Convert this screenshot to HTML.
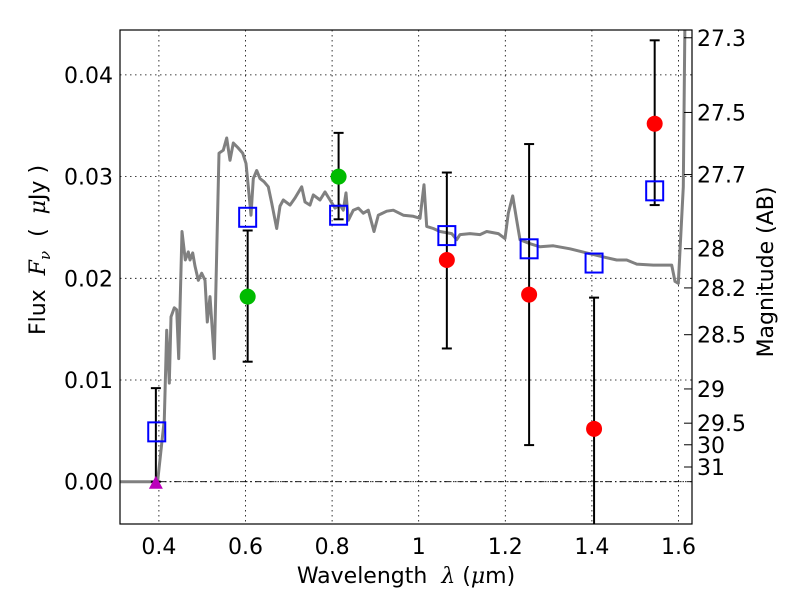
<!DOCTYPE html>
<html><head><meta charset="utf-8"><style>
body{margin:0;background:#fff}
svg text{font-family:"DejaVu Sans","Liberation Sans",sans-serif;fill:#000;white-space:pre}
</style></head><body>
<svg id="chart" width="800" height="600" xmlns="http://www.w3.org/2000/svg">
<rect width="800" height="600" fill="#fff"/>
<defs><clipPath id="clip"><rect x="120" y="30" width="572" height="494"/></clipPath></defs>
<g id="grid"></g>
<g id="plot" clip-path="url(#clip)"></g>
<rect x="120" y="30" width="572" height="494" fill="none" stroke="#000" stroke-width="1.2"/>
<g id="axes"></g>
<text x="406" y="583" text-anchor="middle" font-size="22" xml:space="preserve">Wavelength  <tspan font-family="DejaVu Serif" font-style="italic">λ</tspan> (<tspan font-family="DejaVu Serif" font-style="italic">μ</tspan>m)</text>
<text transform="translate(45,250) rotate(-90)" text-anchor="middle" font-size="22" xml:space="preserve">Flux  <tspan font-family="DejaVu Serif" font-style="italic">F</tspan><tspan font-family="DejaVu Serif" font-style="italic" font-size="15" dy="5">ν</tspan><tspan dy="-5">  (  </tspan><tspan font-family="DejaVu Serif" font-style="italic">μ</tspan>Jy )</text>
<text transform="translate(773,272) rotate(-90)" text-anchor="middle" font-size="22">Magnitude (AB)</text>
</svg>
<script>
const xTicks=[0.4,0.6,0.8,1.0,1.2,1.4,1.6];
const xTickLabels=["0.4","0.6","0.8","1","1.2","1.4","1.6"];
const yTicks=[0,0.01,0.02,0.03,0.04];
const yTickLabels=["0.00","0.01","0.02","0.03","0.04"];
const magTicks=[27.3,27.5,27.7,28,28.2,28.5,29,29.5,30,31];
const specWave=[0.31,0.39,0.397,0.4125,0.418,0.424,0.428,0.4356,0.441,0.4457,0.4533,0.461,0.468,0.4718,0.478,0.4834,0.491,0.4988,0.5065,0.5118,0.518,0.528,0.5335,0.5388,0.5487,0.5566,0.5642,0.5718,0.5834,0.5935,0.6012,0.6065,0.6127,0.618,0.6259,0.6335,0.6427,0.6527,0.6605,0.672,0.6797,0.6873,0.7028,0.7143,0.7298,0.7374,0.749,0.7566,0.772,0.7836,0.7951,0.8067,0.8182,0.8259,0.8321,0.8374,0.849,0.8605,0.872,0.8836,0.8968,0.9067,0.9261,0.9413,0.9644,0.9875,1.003,1.0122,1.0185,1.0337,1.0492,1.0762,1.0878,1.0954,1.1185,1.1416,1.157,1.1838,1.1993,1.2069,1.2171,1.2263,1.234,1.2571,1.2802,1.3108,1.3494,1.388,1.4263,1.4573,1.4804,1.5034,1.5418,1.5727,1.5843,1.592,1.5996,1.611,1.615];
const specFlux=[0,0,0,0.0061,0.0149,0.0097,0.0162,0.0171,0.0169,0.0121,0.0246,0.0218,0.0226,0.0218,0.0225,0.0212,0.0198,0.0205,0.0198,0.0157,0.0182,0.0121,0.0225,0.0323,0.0326,0.0338,0.0316,0.0333,0.0328,0.0323,0.0313,0.0290,0.0262,0.0298,0.0306,0.0298,0.0295,0.0290,0.0274,0.0249,0.0271,0.0277,0.0272,0.0279,0.0290,0.0275,0.0272,0.0282,0.0277,0.0285,0.0277,0.0269,0.0272,0.0267,0.0284,0.0257,0.0267,0.0269,0.0264,0.0267,0.0246,0.0262,0.0266,0.0267,0.0262,0.0261,0.0259,0.0292,0.0251,0.0249,0.0246,0.0244,0.0238,0.0243,0.0244,0.0243,0.0246,0.0244,0.0239,0.0264,0.0281,0.0257,0.0238,0.0234,0.0231,0.0232,0.0229,0.0225,0.0221,0.0218,0.0218,0.0214,0.0213,0.0213,0.0213,0.0197,0.0195,0.0290,0.0460];
const modelWave=[0.395,0.605,0.815,1.065,1.255,1.405,1.545];
const modelFlux=[0.0049,0.0260,0.0262,0.0242,0.0229,0.0215,0.0286];
const greenWave=[0.605,0.815];
const greenFlux=[0.0182,0.0300];
const greenLo=[0.0118,0.0258];
const greenHi=[0.0247,0.0343];
const redWave=[1.065,1.255,1.405,1.545];
const redFlux=[0.0218,0.0184,0.0052,0.0352];
const redLo=[0.0131,0.0036,-0.006,0.0272];
const redHi=[0.0304,0.0332,0.0181,0.0434];
const limWave=[0.393];
const limFlux=[0.0];
const limHi=[0.0092];

const X=v=>158.9+(v-0.4)*433;
const Y=v=>481.7-v*10170;
const NS="http://www.w3.org/2000/svg";
function mk(parent,tag,attrs){const e=document.createElementNS(NS,tag);for(const k in attrs)e.setAttribute(k,attrs[k]);parent.appendChild(e);return e;}
const grid=document.getElementById('grid'),plot=document.getElementById('plot'),axes=document.getElementById('axes');
xTicks.forEach((t,i)=>{
  const l=mk(grid,'line',{x1:X(t),x2:X(t),y1:30,y2:524,stroke:'#000','stroke-width':0.8,'stroke-dasharray':'1.5,3.5'});
  
  
  const tx=mk(axes,'text',{x:X(t),y:554,'text-anchor':'middle','font-size':22});
  tx.textContent=xTickLabels[i];
  
  
});
yTicks.forEach((t,i)=>{
  const l=mk(grid,'line',{x1:120,x2:692,y1:Y(t),y2:Y(t),stroke:'#000','stroke-width':0.8,'stroke-dasharray':'1.5,3.5'});
  
  
  const tx=mk(axes,'text',{x:113,y:Y(t)+8,'text-anchor':'end','font-size':22});
  tx.textContent=yTickLabels[i];
  
  
});
const zl=mk(grid,'line',{x1:120,x2:692,y1:Y(0),y2:Y(0),stroke:'#000','stroke-width':0.8,'stroke-dasharray':'6,3,1.5,3'});


magTicks.forEach(m=>{
  const f=Math.pow(10,(23.9-m)/2.5);
  const y=Y(f);
  const tk=mk(axes,'line',{x1:684,x2:692,y1:y,y2:y,stroke:'#000','stroke-width':1});
  
  
  const tx=mk(axes,'text',{x:697,y:y+8,'font-size':22});
  tx.textContent=String(m);
  
  
});
const pts=specWave.map((w,i)=>X(w).toFixed(1)+','+Y(specFlux[i]).toFixed(1)).join(' ');
const sp=mk(plot,'polyline',{points:pts,fill:'none',stroke:'#808080','stroke-width':3,'stroke-linejoin':'round'});


function err(w,lo,hi,name){
  const g=mk(plot,'g',{});
  
  
  mk(g,'line',{x1:X(w),x2:X(w),y1:Y(lo),y2:Y(hi),stroke:'#000','stroke-width':2});
  mk(g,'line',{x1:X(w)-5,x2:X(w)+5,y1:Y(lo),y2:Y(lo),stroke:'#000','stroke-width':2});
  mk(g,'line',{x1:X(w)-5,x2:X(w)+5,y1:Y(hi),y2:Y(hi),stroke:'#000','stroke-width':2});
}
limWave.forEach((w,i)=>err(w,limFlux[i],limHi[i],'limit-errorbar'));
greenWave.forEach((w,i)=>err(w,greenLo[i],greenHi[i],'green-errorbar'));
redWave.forEach((w,i)=>err(w,redLo[i],redHi[i],'red-errorbar'));
modelWave.forEach((w,i)=>{
  const r=mk(plot,'rect',{x:X(w)-8.5,y:Y(modelFlux[i])-9.5,width:17,height:19,fill:'none',stroke:'#0000ff','stroke-width':2});
  
  
});
greenWave.forEach((w,i)=>{
  const c=mk(plot,'circle',{cx:X(w),cy:Y(greenFlux[i]),r:8,fill:'#00bb00'});
  
  
});
redWave.forEach((w,i)=>{
  const c=mk(plot,'circle',{cx:X(w),cy:Y(redFlux[i]),r:8,fill:'#ff0000'});
  
  
});
limWave.forEach((w,i)=>{
  const x=X(w),y=Y(limFlux[i]);
  const p=mk(plot,'polygon',{points:`${x-7},${y+7} ${x+7},${y+7} ${x},${y-6}`,fill:'#bb00bb'});
  
  
});
</script>
</body></html>
